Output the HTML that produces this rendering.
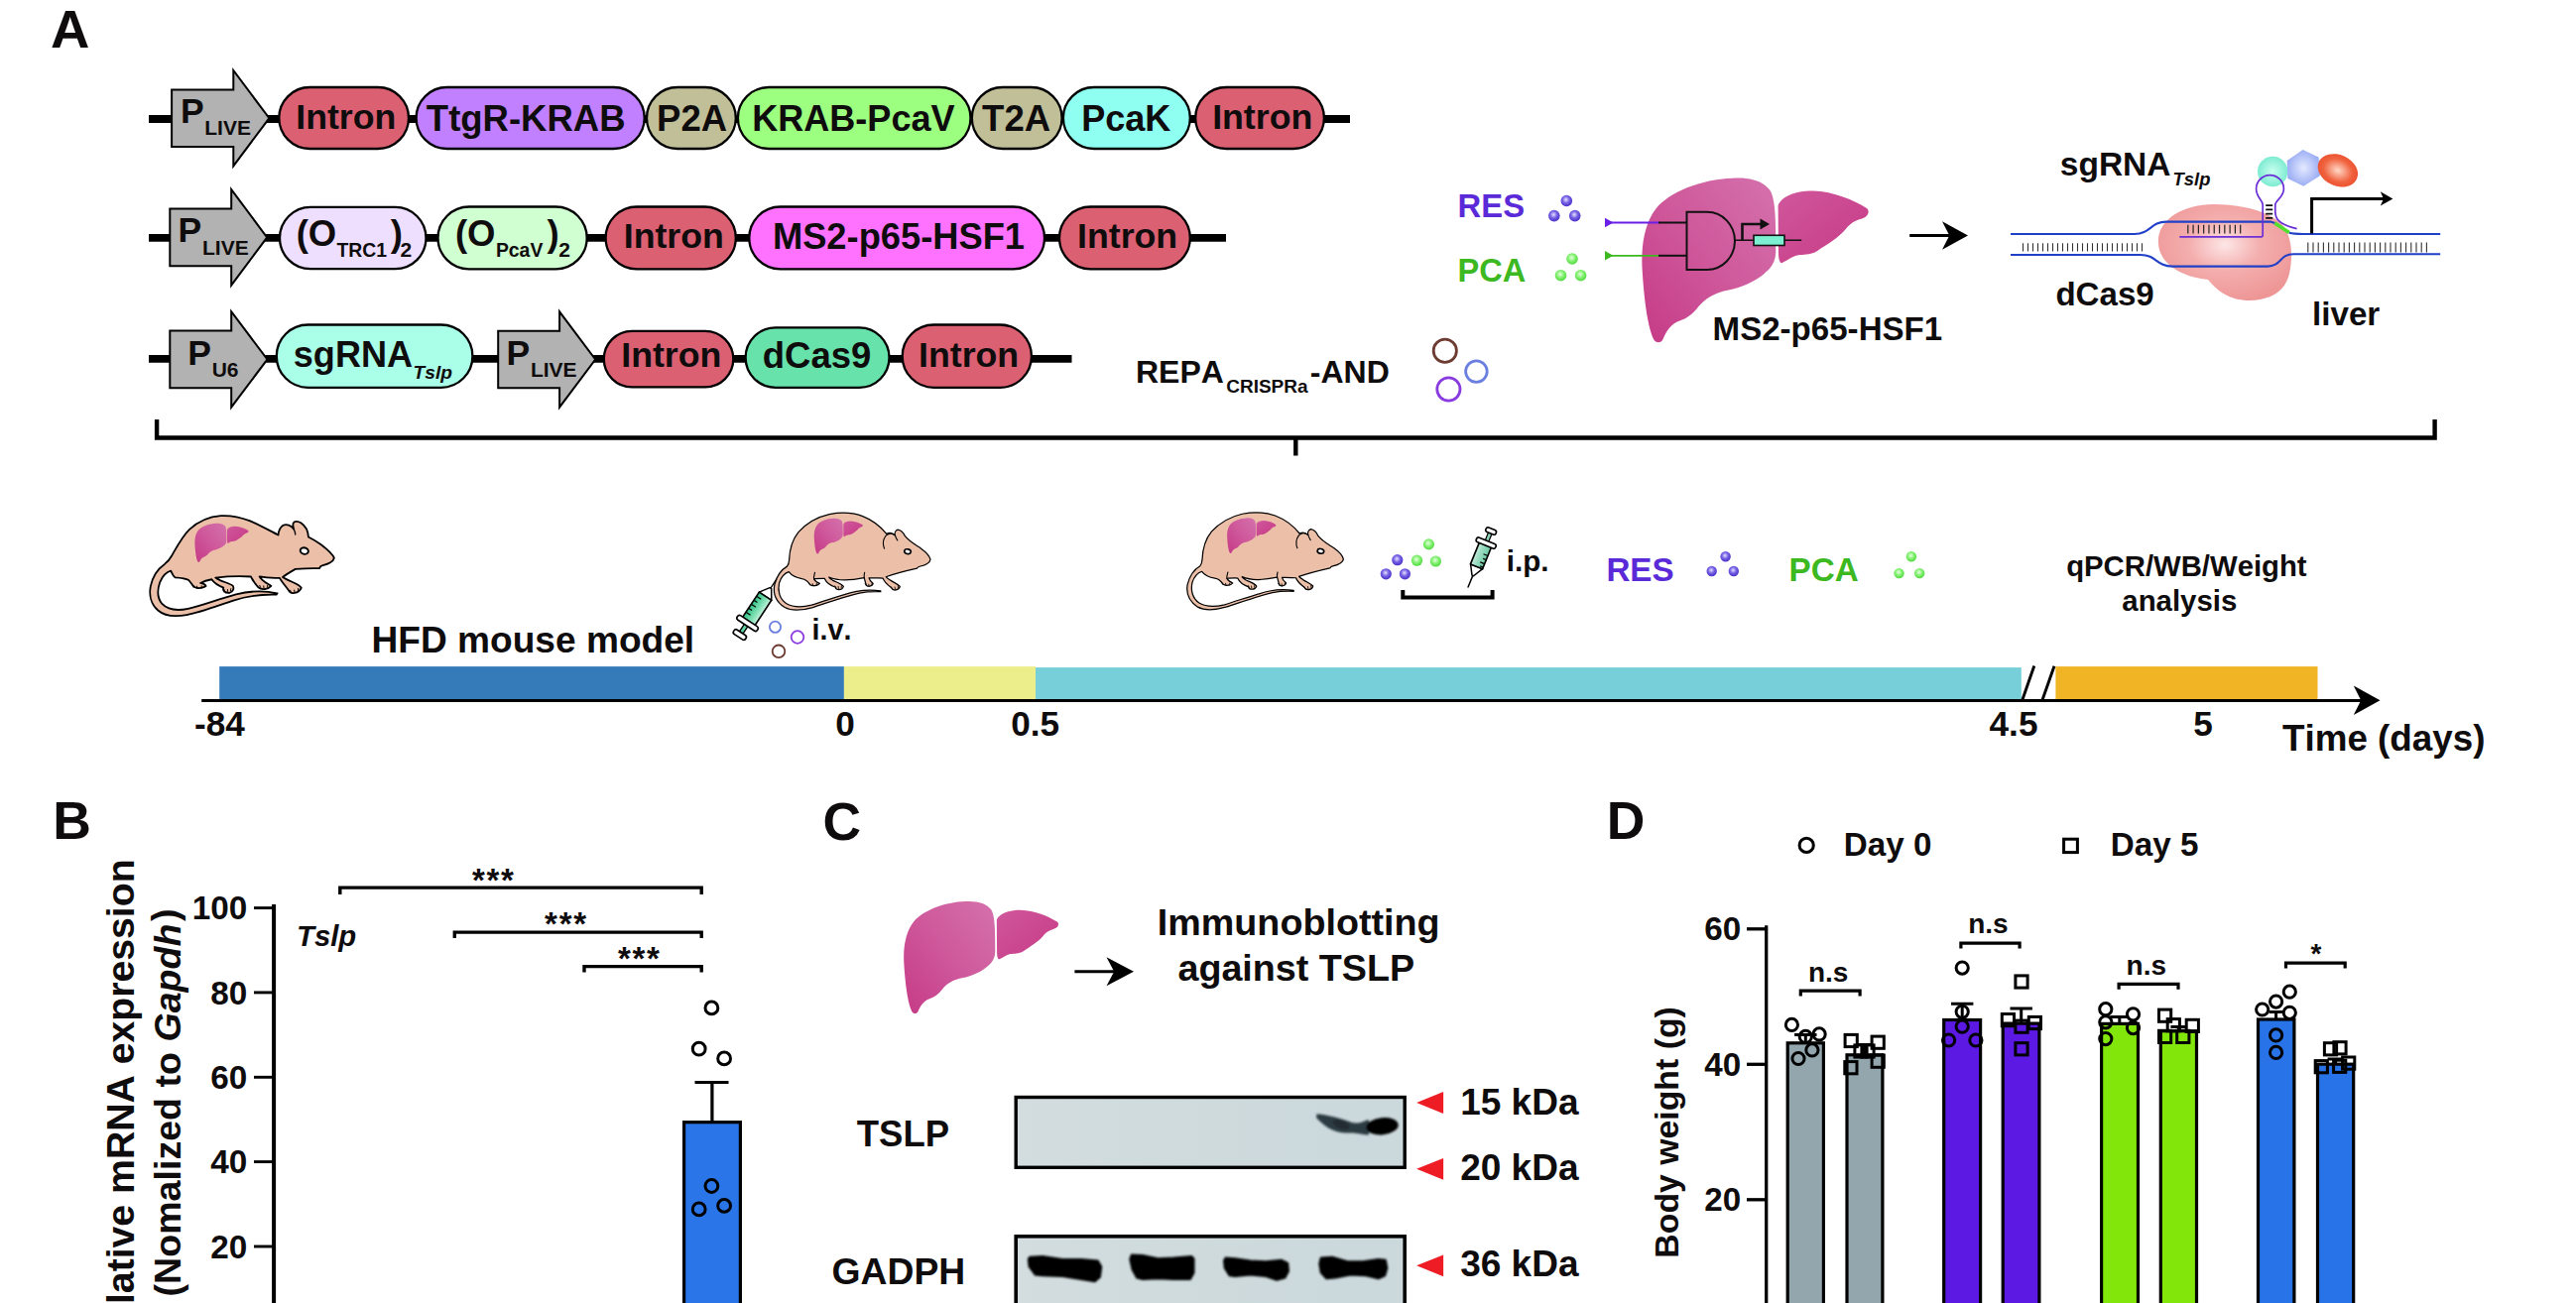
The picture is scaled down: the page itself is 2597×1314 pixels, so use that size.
<!DOCTYPE html>
<html lang="en"><head><meta charset="utf-8"><title>Figure</title>
<style>
html,body{margin:0;padding:0;background:#fff;width:2597px;height:1314px;overflow:hidden;}
svg{display:block;}
text{font-family:"Liberation Sans",sans-serif;font-weight:bold;font-kerning:none;}
</style></head><body>
<svg width="2597" height="1314" viewBox="0 0 2597 1314">
<defs>
<linearGradient id="lvA" x1="0.05" y1="1" x2="1" y2="0.1">
 <stop offset="0" stop-color="#c63c87"/><stop offset="0.55" stop-color="#cf5a9c"/><stop offset="1" stop-color="#d46fab"/>
</linearGradient>
<linearGradient id="lvB" x1="0" y1="0" x2="1" y2="1">
 <stop offset="0" stop-color="#d0579c"/><stop offset="1" stop-color="#c63a84"/>
</linearGradient>
<radialGradient id="dotP" cx="0.45" cy="0.4" r="0.6">
 <stop offset="0" stop-color="#e6e1ff"/><stop offset="0.5" stop-color="#7562e4"/><stop offset="1" stop-color="#4a2fc8"/>
</radialGradient>
<radialGradient id="dotG" cx="0.45" cy="0.4" r="0.6">
 <stop offset="0" stop-color="#e6ffe0"/><stop offset="0.5" stop-color="#86f274"/><stop offset="1" stop-color="#4fd83e"/>
</radialGradient>
<radialGradient id="cas" cx="0.5" cy="0.42" r="0.6">
 <stop offset="0" stop-color="#fde6e6"/><stop offset="0.45" stop-color="#f4aeae"/><stop offset="1" stop-color="#ee9696"/>
</radialGradient>
<radialGradient id="gTeal" cx="0.5" cy="0.5" r="0.6">
 <stop offset="0" stop-color="#c9fff0"/><stop offset="1" stop-color="#6fe8cc"/>
</radialGradient>
<radialGradient id="gHex" cx="0.5" cy="0.5" r="0.6">
 <stop offset="0" stop-color="#e4eaff"/><stop offset="1" stop-color="#8ea2f2"/>
</radialGradient>
<radialGradient id="gRed" cx="0.5" cy="0.5" r="0.6">
 <stop offset="0" stop-color="#ffd9c8"/><stop offset="0.6" stop-color="#f0623e"/><stop offset="1" stop-color="#ea4a2a"/>
</radialGradient>
<linearGradient id="syr" x1="0" y1="0" x2="0" y2="1">
 <stop offset="0" stop-color="#2fc184"/><stop offset="0.6" stop-color="#7fe0b4"/><stop offset="1" stop-color="#c8f4de"/>
</linearGradient>
<linearGradient id="syr2" x1="0" y1="0" x2="0" y2="1">
 <stop offset="0" stop-color="#6cc9a2"/><stop offset="0.6" stop-color="#9adcc0"/><stop offset="1" stop-color="#c4eada"/>
</linearGradient>
<filter id="blur2" x="-20%" y="-40%" width="140%" height="180%"><feGaussianBlur stdDeviation="1.1"/></filter>
<filter id="blur3" x="-20%" y="-40%" width="140%" height="180%"><feGaussianBlur stdDeviation="2.6"/></filter>
<linearGradient id="blotBg" x1="0" y1="0" x2="1" y2="0">
 <stop offset="0" stop-color="#d3dddf"/><stop offset="0.5" stop-color="#cedadc"/><stop offset="1" stop-color="#cbd8dc"/>
</linearGradient>
<g id="liver">
<path d="M400,125 C450,121 492,133 512,160 C526,182 529,232 529,300 L529,332 C531,362 521,386 500,402 C470,430 422,449 390,455 C350,462 320,480 300,505 C285,525 265,540 245,546 C220,555 206,576 196,600 C190,613 175,613 168,600 C150,560 140,480 135,400 C130,330 140,260 175,215 C215,165 310,128 400,125 Z" fill="url(#lvA)"/>
<path d="M536,205 C546,178 590,161 640,162 C700,164 760,189 799,214 C808,224 801,240 781,245 C761,250 746,262 736,275 C716,300 681,320 651,340 C631,352 611,350 596,352 C576,355 561,370 547,375 C540,376 537,361 537,340 Z" fill="url(#lvB)"/>
</g>
<g id="mLean" stroke-linejoin="round" stroke-linecap="round">
<path d="M1498,455 C1485,420 1440,385 1400,355 C1370,333 1340,315 1310,300 C1308,265 1290,220 1255,197 C1235,184 1208,182 1200,198 C1195,212 1198,228 1204,244 C1185,216 1150,202 1125,216 C1102,232 1092,258 1090,286 C1030,255 950,210 880,182 C810,155 740,142 670,146 C585,152 505,188 442,245 C392,292 352,368 312,438 C298,464 282,482 262,497 C212,532 172,592 158,660 C146,722 160,792 212,836 C262,880 342,884 422,869 C522,851 642,804 762,764 C862,732 962,719 1076,722 L1083,712 C982,690 882,694 782,719 C662,751 542,799 432,824 C352,841 282,831 242,789 C207,749 206,689 226,630 C246,585 276,556 306,548 C316,566 320,586 336,596 C372,598 412,601 436,616 C456,636 462,656 482,668 C506,680 546,672 562,659 C556,646 540,640 522,637 C548,622 578,614 604,610 C620,634 652,656 690,670 C682,692 700,712 734,708 C760,702 770,676 758,656 C736,640 700,632 664,616 C654,610 640,604 632,598 C700,590 800,585 890,590 C904,618 922,646 944,668 C968,690 1016,684 1038,658 C1016,644 992,632 972,612 C962,602 956,596 953,590 C1000,600 1050,602 1100,600 C1114,628 1142,656 1164,688 C1178,724 1240,714 1258,672 C1246,652 1216,640 1190,628 C1162,616 1140,606 1122,594 C1140,580 1180,555 1215,535 C1280,530 1340,528 1390,530 C1394,520 1400,512 1410,510 C1450,500 1490,485 1498,455 Z" fill="#ebbfa8" stroke="#000" stroke-width="13"/>
<path d="M1204,244 C1212,262 1216,272 1214,282" fill="none" stroke="#000" stroke-width="10"/>
<ellipse cx="1280" cy="402" rx="30" ry="23" transform="rotate(15 1280 402)" fill="#fff" stroke="#000" stroke-width="14"/>
<path d="M470,668 l-6,-14 M500,676 l-4,-16 M530,674 l0,-16 M700,698 l-6,-16 M722,700 l-2,-16 M742,692 l2,-14 M960,668 l-6,-14 M985,674 l-2,-16 M1010,668 l2,-14 M1185,706 l-8,-16 M1210,706 l-4,-18 M1235,692 l0,-16" fill="none" stroke="#000" stroke-width="7"/>
</g>
<g id="mFat" stroke-linejoin="round" stroke-linecap="round">
<path d="M1578,465 C1572,435 1545,410 1510,385 C1470,358 1425,335 1392,293 C1380,268 1362,250 1340,247 C1322,252 1316,272 1320,288 C1300,270 1275,268 1258,278 C1215,225 1150,175 1080,148 C1010,122 920,120 840,135 C750,155 670,205 615,265 C570,320 550,400 547,470 C546,490 540,505 532,515 C490,540 455,590 440,650 C428,715 455,775 515,815 C565,842 650,835 720,815 C820,783 940,738 1060,710 C1110,700 1160,698 1215,700 L1215,694 C1150,684 1090,688 1040,698 C930,722 820,765 710,798 C640,815 570,812 525,785 C475,750 462,690 475,635 C488,595 515,565 545,555 C560,575 600,598 640,605 C665,608 685,625 698,648 C720,664 760,655 770,640 C752,632 735,622 728,606 C760,604 785,602 806,604 C818,632 850,655 886,668 C884,690 934,694 944,662 C930,642 890,630 864,616 C852,608 842,600 838,594 C900,622 1000,618 1095,598 C1100,620 1105,640 1112,655 C1130,668 1158,655 1160,640 C1148,630 1135,620 1130,600 C1170,598 1205,602 1232,602 C1240,630 1268,652 1294,672 C1304,698 1350,690 1356,662 C1340,644 1308,632 1282,614 C1268,606 1258,598 1254,592 C1310,572 1400,548 1480,530 C1486,522 1492,518 1500,516 C1545,505 1575,490 1578,465 Z" fill="#ebbfa8" stroke="#000" stroke-width="9"/>
<path d="M1320,288 C1300,270 1268,272 1250,295 C1232,322 1230,355 1242,385" fill="none" stroke="#000" stroke-width="8"/>
<path d="M1320,288 C1326,305 1332,316 1338,326" fill="none" stroke="#000" stroke-width="8"/>
<path d="M735,560 C730,580 725,595 728,606 M1098,560 C1094,575 1093,588 1095,598" fill="none" stroke="#000" stroke-width="8"/>
<ellipse cx="1412" cy="407" rx="24" ry="17" transform="rotate(12 1412 407)" fill="#fff" stroke="#000" stroke-width="12"/>
<path d="M700,650 l-8,-14 M722,658 l-4,-16 M748,656 l0,-16 M890,672 l-8,-14 M908,678 l-2,-16 M928,670 l2,-14 M1110,656 l-8,-14 M1130,662 l-2,-16 M1150,654 l2,-14 M1300,680 l-10,-16 M1322,684 l-4,-18 M1342,672 l0,-16" fill="none" stroke="#000" stroke-width="6"/>
</g>
<g id="syringe" stroke-linejoin="round">
<line x1="420" y1="0" x2="498" y2="0" stroke="#000" stroke-width="9" stroke-linecap="round"/>
<path d="M350,-54 L420,-7 L420,7 L350,54 Z" fill="#fff" stroke="#000" stroke-width="11"/>
<rect x="30" y="-15" width="70" height="30" fill="#5fd3a2" stroke="#000" stroke-width="10"/>
<rect x="130" y="-54" width="220" height="108" fill="url(#syr)" stroke="#000" stroke-width="12"/>
<path d="M175,-54V-14M210,-54V-24M245,-54V-14M280,-54V-24M315,-54V-14" stroke="#000" stroke-width="9" fill="none"/>
<rect x="95" y="-88" width="38" height="176" rx="17" fill="#fff" stroke="#000" stroke-width="12"/>
<rect x="-6" y="-52" width="38" height="104" rx="17" fill="#fff" stroke="#000" stroke-width="12"/>
</g><g id="syringe2" stroke-linejoin="round">
<line x1="395" y1="0" x2="498" y2="0" stroke="#000" stroke-width="12" stroke-linecap="round"/>
<path d="M318,-52 L398,-7 L398,7 L318,52 Z" fill="#fff" stroke="#000" stroke-width="12"/>
<rect x="28" y="-15" width="72" height="30" fill="#8fd6b8" stroke="#000" stroke-width="10"/>
<rect x="130" y="-52" width="190" height="104" fill="url(#syr2)" stroke="#000" stroke-width="13"/>
<path d="M205,-52V-14M240,-52V-24M275,-52V-14M305,-52V-24" stroke="#000" stroke-width="10" fill="none"/>
<rect x="95" y="-84" width="40" height="168" rx="18" fill="#fff" stroke="#000" stroke-width="13"/>
<rect x="-8" y="-44" width="38" height="88" rx="17" fill="#fff" stroke="#000" stroke-width="13"/>
</g>
</defs>
<rect width="2597" height="1314" fill="#ffffff"/>

<text x="51.0" y="47.7" font-size="54.5" text-anchor="start" fill="#0f0c0d">A</text>
<text x="53.3" y="846.2" font-size="53.5" text-anchor="start" fill="#0f0c0d">B</text>
<text x="829.5" y="846.8" font-size="53.5" text-anchor="start" fill="#0f0c0d">C</text>
<text x="1619.8" y="846.4" font-size="53.5" text-anchor="start" fill="#0f0c0d">D</text>
<line x1="150" y1="120.0" x2="1361" y2="120.0" stroke="#000" stroke-width="7.8"/>
<polygon points="173.1,90.4 235.3,90.4 235.3,71.0 271.4,119.2 235.3,167.4 235.3,148.0 173.1,148.0" fill="#b2b2b2" stroke="#000" stroke-width="2.0" stroke-linejoin="miter"/>
<text x="181.9" y="123.5" font-size="35.5" text-anchor="start" fill="#0f0c0d">P</text>
<text x="206.3" y="136.4" font-size="21" text-anchor="start" fill="#0f0c0d">LIVE</text>
<rect x="281.3" y="88.0" width="130.7" height="62.0" rx="31.0" fill="#db6071" stroke="#000" stroke-width="2.3"/>
<text x="348.8" y="129.6" font-size="35.7" text-anchor="middle" fill="#0f0c0d">Intron</text>
<rect x="419.6" y="88.0" width="230.1" height="62.0" rx="31.0" fill="#c080ff" stroke="#000" stroke-width="2.3"/>
<text x="530.2" y="132.0" font-size="36.5" text-anchor="middle" fill="#0f0c0d">TtgR-KRAB</text>
<rect x="652.0" y="88.0" width="89.8" height="62.0" rx="31.0" fill="#c1bf98" stroke="#000" stroke-width="2.3"/>
<text x="697.6" y="132.0" font-size="36.5" text-anchor="middle" fill="#0f0c0d">P2A</text>
<rect x="743.9" y="88.0" width="234.6" height="62.0" rx="31.0" fill="#9dff80" stroke="#000" stroke-width="2.3"/>
<text x="860.4" y="132.0" font-size="36.1" text-anchor="middle" fill="#0f0c0d">KRAB-PcaV</text>
<rect x="979.8" y="88.0" width="90.8" height="62.0" rx="31.0" fill="#c1bf98" stroke="#000" stroke-width="2.3"/>
<text x="1024.6" y="132.0" font-size="36.5" text-anchor="middle" fill="#0f0c0d">T2A</text>
<rect x="1071.9" y="88.0" width="127.9" height="62.0" rx="31.0" fill="#8ffff2" stroke="#000" stroke-width="2.3"/>
<text x="1135.3" y="132.0" font-size="36.1" text-anchor="middle" fill="#0f0c0d">PcaK</text>
<rect x="1205.2" y="88.0" width="129.7" height="62.0" rx="31.0" fill="#db6071" stroke="#000" stroke-width="2.3"/>
<text x="1272.7" y="129.6" font-size="35.7" text-anchor="middle" fill="#0f0c0d">Intron</text>
<line x1="150" y1="239.8" x2="1236" y2="239.8" stroke="#000" stroke-width="7.8"/>
<polygon points="171.3,210.5 233.2,210.5 233.2,191.1 269.2,239.4 233.2,287.7 233.2,268.3 171.3,268.3" fill="#b2b2b2" stroke="#000" stroke-width="2.0" stroke-linejoin="miter"/>
<text x="179.4" y="244.0" font-size="35.5" text-anchor="start" fill="#0f0c0d">P</text>
<text x="204.0" y="256.6" font-size="21" text-anchor="start" fill="#0f0c0d">LIVE</text>
<rect x="282.0" y="208.9" width="147.5" height="62.3" rx="31.1" fill="#efdfff" stroke="#000" stroke-width="2.3"/>
<text x="298.7" y="248.0" font-size="36.5" text-anchor="start" fill="#0f0c0d">(O</text>
<text x="339.5" y="258.7" font-size="19.4" text-anchor="start" fill="#0f0c0d">TRC1</text>
<text x="393.8" y="248.0" font-size="36.5" text-anchor="start" fill="#0f0c0d">)</text>
<text x="403.6" y="258.7" font-size="21" text-anchor="start" fill="#0f0c0d">2</text>
<rect x="441.5" y="208.5" width="150.2" height="62.8" rx="31.4" fill="#d0ffd2" stroke="#000" stroke-width="2.3"/>
<text x="458.9" y="248.0" font-size="36.5" text-anchor="start" fill="#0f0c0d">(O</text>
<text x="499.9" y="258.7" font-size="19.4" text-anchor="start" fill="#0f0c0d">PcaV</text>
<text x="551.5" y="248.0" font-size="36.5" text-anchor="start" fill="#0f0c0d">)</text>
<text x="563.3" y="258.7" font-size="21" text-anchor="start" fill="#0f0c0d">2</text>
<rect x="610.6" y="208.5" width="131.2" height="62.8" rx="31.4" fill="#db6071" stroke="#000" stroke-width="2.3"/>
<text x="679.3" y="249.6" font-size="35.7" text-anchor="middle" fill="#0f0c0d">Intron</text>
<rect x="755.3" y="208.5" width="297.7" height="62.8" rx="31.4" fill="#ff72ff" stroke="#000" stroke-width="2.3"/>
<text x="906.0" y="251.0" font-size="36.3" text-anchor="middle" fill="#0f0c0d">MS2-p65-HSF1</text>
<rect x="1068.0" y="208.5" width="131.8" height="62.8" rx="31.4" fill="#db6071" stroke="#000" stroke-width="2.3"/>
<text x="1136.6" y="249.6" font-size="35.7" text-anchor="middle" fill="#0f0c0d">Intron</text>
<line x1="150" y1="361.8" x2="1080.5" y2="361.8" stroke="#000" stroke-width="7.8"/>
<polygon points="171.3,333.6 233.2,333.6 233.2,314.2 269.5,362.4 233.2,410.7 233.2,391.2 171.3,391.2" fill="#b2b2b2" stroke="#000" stroke-width="2.0" stroke-linejoin="miter"/>
<text x="189.3" y="367.7" font-size="35.5" text-anchor="start" fill="#0f0c0d">P</text>
<text x="213.7" y="379.7" font-size="21" text-anchor="start" fill="#0f0c0d">U6</text>
<rect x="278.8" y="327.5" width="197.6" height="63.3" rx="31.7" fill="#aaffe9" stroke="#000" stroke-width="2.3"/>
<text x="295.8" y="369.6" font-size="36.1" text-anchor="start" fill="#0f0c0d">sgRNA</text>
<text x="416.6" y="382.2" font-size="19.2" text-anchor="start" fill="#0f0c0d" font-style="italic">Tslp</text>
<polygon points="502.2,333.7 564.1,333.7 564.1,314.3 600.2,362.5 564.1,410.7 564.1,391.3 502.2,391.3" fill="#b2b2b2" stroke="#000" stroke-width="2.0" stroke-linejoin="miter"/>
<text x="510.5" y="367.7" font-size="35.5" text-anchor="start" fill="#0f0c0d">P</text>
<text x="534.9" y="379.7" font-size="21" text-anchor="start" fill="#0f0c0d">LIVE</text>
<rect x="608.8" y="333.8" width="130.5" height="56.6" rx="28.3" fill="#db6071" stroke="#000" stroke-width="2.3"/>
<text x="676.8" y="369.6" font-size="35.7" text-anchor="middle" fill="#0f0c0d">Intron</text>
<rect x="751.6" y="330.4" width="144.9" height="60.4" rx="30.2" fill="#66e2aa" stroke="#000" stroke-width="2.3"/>
<text x="823.6" y="370.8" font-size="36.5" text-anchor="middle" fill="#0f0c0d">dCas9</text>
<rect x="909.7" y="327.5" width="130.2" height="63.3" rx="31.7" fill="#db6071" stroke="#000" stroke-width="2.3"/>
<text x="976.6" y="369.6" font-size="35.7" text-anchor="middle" fill="#0f0c0d">Intron</text>
<text x="1145.0" y="385.8" font-size="32" text-anchor="start" fill="#0f0c0d">REPA</text>
<text x="1236.2" y="396.4" font-size="19" text-anchor="start" fill="#0f0c0d">CRISPRa</text>
<text x="1320.8" y="385.8" font-size="32" text-anchor="start" fill="#0f0c0d">-AND</text>
<circle cx="1456.8" cy="353.8" r="11.6" fill="none" stroke="#6d3b32" stroke-width="2.8"/>
<circle cx="1488.4" cy="374.6" r="10.8" fill="none" stroke="#6b7fe0" stroke-width="2.8"/>
<circle cx="1460.4" cy="392.5" r="11.6" fill="none" stroke="#8a3be0" stroke-width="2.8"/>
<path d="M158.1,423.1 V441.5 H2454.6 V423.1 M1306.3,441.5 V459.6" fill="none" stroke="#000" stroke-width="4.4" stroke-linecap="butt" stroke-linejoin="miter"/>
<text x="1469.6" y="218.6" font-size="32.8" text-anchor="start" fill="#5b2ad8">RES</text>
<text x="1469.6" y="283.6" font-size="32.6" text-anchor="start" fill="#3cb821">PCA</text>
<circle cx="1579.3" cy="202.5" r="5.8" fill="url(#dotP)"/>
<circle cx="1566.8" cy="217.6" r="5.8" fill="url(#dotP)"/>
<circle cx="1587.7" cy="217.6" r="5.8" fill="url(#dotP)"/>
<circle cx="1585.0" cy="261.0" r="5.8" fill="url(#dotG)"/>
<circle cx="1573.5" cy="277.7" r="5.8" fill="url(#dotG)"/>
<circle cx="1593.6" cy="277.7" r="5.8" fill="url(#dotG)"/>
<use href="#liver" transform="translate(1609.70,137.20) scale(0.34120)"/>
<polygon points="1618,219.8 1618,229.2 1626.5,224.5" fill="#6a1fe8"/>
<line x1="1624" y1="224.5" x2="1673" y2="224.5" stroke="#6a1fe8" stroke-width="1.8"/>
<line x1="1672" y1="224.5" x2="1701" y2="224.5" stroke="#111" stroke-width="2"/>
<polygon points="1618,253.1 1618,262.5 1626.5,257.8" fill="#3cb821"/>
<line x1="1624" y1="257.8" x2="1673" y2="257.8" stroke="#3cb821" stroke-width="1.8"/>
<line x1="1672" y1="257.8" x2="1701" y2="257.8" stroke="#111" stroke-width="2"/>
<path d="M1700.5,213.8 H1721 A28,29.1 0 0 1 1721,272 H1700.5 Z" fill="none" stroke="#111" stroke-width="2"/>
<line x1="1748.7" y1="242.3" x2="1816.2" y2="242.3" stroke="#111" stroke-width="1.6"/>
<path d="M1756.5,242.3 V226 H1776.4" fill="none" stroke="#111" stroke-width="2.6"/>
<polygon points="1774.5,220.6 1784,226 1774.5,231.4" fill="#111"/>
<rect x="1768" y="237.3" width="31" height="10.2" fill="#7df0d2" stroke="#111" stroke-width="1.6"/>
<text x="1726.6" y="343.4" font-size="33.1" text-anchor="start" fill="#0f0c0d">MS2-p65-HSF1</text>
<line x1="1925.2" y1="237.5" x2="1968.4" y2="237.5" stroke="#000" stroke-width="3"/>
<polygon points="1984.0,237.5 1958.0,223.3 1965.3,237.5 1958.0,251.7" fill="#000"/>
<text x="2076.8" y="176.6" font-size="33.5" text-anchor="start" fill="#0f0c0d">sgRNA</text>
<text x="2190.6" y="187.0" font-size="18.4" text-anchor="start" fill="#0f0c0d" font-style="italic">Tslp</text>
<text x="2072.4" y="308.2" font-size="33.1" text-anchor="start" fill="#0f0c0d">dCas9</text>
<text x="2331.0" y="328.0" font-size="33.2" text-anchor="start" fill="#0f0c0d">liver</text>
<path d="M2176,246 C2174,222 2200,206 2232,206 C2262,206 2290,214 2302,228 C2312,242 2311,262 2308,276 C2304,294 2288,303 2268,303 C2248,303 2236,294 2226,282 C2206,280 2178,270 2176,246 Z" fill="url(#cas)"/>
<circle cx="2291.2" cy="173" r="15.2" fill="url(#gTeal)"/>
<polygon points="2321.6,151.0 2337.5,158.6 2338.9,177.3 2322.3,187.7 2306.4,180.1 2305.7,162.1" fill="url(#gHex)"/>
<ellipse cx="2356.9" cy="171.8" rx="21" ry="15.6" transform="rotate(24 2356.9 171.8)" fill="url(#gRed)"/>
<path d="M2027,236 H2152 C2168,236 2168,223.6 2184,223.6 H2289 L2293.5,225" fill="none" stroke="#2140c8" stroke-width="2.1"/>
<path d="M2307.8,234.8 C2312,236 2316,236 2322,236 H2460.2" fill="none" stroke="#2140c8" stroke-width="2.1"/>
<line x1="2293.3" y1="225" x2="2307.8" y2="234.6" stroke="#4fe02c" stroke-width="3.6"/>
<path d="M2027,257 H2158 C2174,257 2174,268.6 2190,268.6 H2286 C2300,268.6 2298,256.2 2312,256.2 H2460.2" fill="none" stroke="#2140c8" stroke-width="2.1"/>
<path d="M2039.50,245.3V253.6M2044.50,245.3V253.6M2049.50,245.3V253.6M2054.50,245.3V253.6M2059.50,245.3V253.6M2064.50,245.3V253.6M2069.50,245.3V253.6M2074.50,245.3V253.6M2079.50,245.3V253.6M2084.50,245.3V253.6M2089.50,245.3V253.6M2094.50,245.3V253.6M2099.50,245.3V253.6M2104.50,245.3V253.6M2109.50,245.3V253.6M2114.50,245.3V253.6M2119.50,245.3V253.6M2124.50,245.3V253.6M2129.50,245.3V253.6M2134.50,245.3V253.6M2139.50,245.3V253.6M2144.50,245.3V253.6M2149.50,245.3V253.6M2154.50,245.3V253.6M2159.50,245.3V253.6" stroke="#333" stroke-width="1.1" fill="none"/>
<path d="M2326.80,244.4V254.4M2332.00,244.4V254.4M2337.20,244.4V254.4M2342.40,244.4V254.4M2347.60,244.4V254.4M2352.80,244.4V254.4M2358.00,244.4V254.4M2363.20,244.4V254.4M2368.40,244.4V254.4M2373.60,244.4V254.4M2378.80,244.4V254.4M2384.00,244.4V254.4M2389.20,244.4V254.4M2394.40,244.4V254.4M2399.60,244.4V254.4M2404.80,244.4V254.4M2410.00,244.4V254.4M2415.20,244.4V254.4M2420.40,244.4V254.4M2425.60,244.4V254.4M2430.80,244.4V254.4M2436.00,244.4V254.4M2441.20,244.4V254.4M2446.40,244.4V254.4" stroke="#333" stroke-width="1.1" fill="none"/>
<path d="M2205.80,226.8V235.6M2211.09,226.8V235.6M2216.38,226.8V235.6M2221.67,226.8V235.6M2226.96,226.8V235.6M2232.25,226.8V235.6M2237.54,226.8V235.6M2242.83,226.8V235.6M2248.12,226.8V235.6M2253.41,226.8V235.6M2258.70,226.8V235.6" stroke="#222" stroke-width="1.2" fill="none"/>
<path d="M2197.3,238.8 H2279.6 Q2281.2,238.8 2281.2,237 V206.5 C2281.2,202 2274.6,199 2274.6,190.5 A13.9,13.9 0 1 1 2302.4,190.5 C2302.4,199 2293.8,202 2293.8,206.5 V214 C2293.8,224 2304,228 2315.6,230.6" fill="none" stroke="#6a2fd6" stroke-width="1.7"/>
<path d="M2284.2,207.2H2291.2M2284.2,211.4H2291.2M2284.2,215.7H2291.2M2284.2,219.9H2291.2" stroke="#111" stroke-width="1.7" fill="none"/>
<path d="M2330.6,235.4 V200.4 H2404" fill="none" stroke="#000" stroke-width="3"/>
<polygon points="2412.4,200.4 2399.8,193.2 2403,200.4 2399.8,207.6" fill="#000"/>
<use href="#mLean" transform="translate(130,500) scale(0.13812)"/>
<use href="#liver" transform="translate(185.60,517.60) scale(0.08090)"/>
<use href="#mFat" transform="translate(720,500) scale(0.13812)"/>
<use href="#liver" transform="translate(810.88,513.61) scale(0.07350)"/>
<use href="#mFat" transform="translate(1136.4,499.6) scale(0.13812)"/>
<use href="#liver" transform="translate(1227.28,513.21) scale(0.07350)"/>
<use href="#syringe" transform="translate(744.86,641.57) rotate(-56.5) scale(0.13812)"/>
<use href="#syringe2" transform="translate(1503.66,534.24) rotate(112.2) scale(0.12541)"/>
<circle cx="781.5" cy="632.3" r="5.6" fill="none" stroke="#6b7fe0" stroke-width="1.8"/>
<circle cx="804.0" cy="642.5" r="6.3" fill="none" stroke="#8a3be0" stroke-width="1.8"/>
<circle cx="785.0" cy="656.8" r="6.3" fill="none" stroke="#6d3b32" stroke-width="1.8"/>
<text x="818.6" y="645.0" font-size="28.6" text-anchor="start" fill="#0f0c0d">i.v.</text>
<text x="1518.8" y="575.8" font-size="29.6" text-anchor="start" fill="#0f0c0d">i.p.</text>
<circle cx="1408.8" cy="564.7" r="5.6" fill="url(#dotP)"/>
<circle cx="1397.3" cy="578.8" r="5.6" fill="url(#dotP)"/>
<circle cx="1416.4" cy="578.8" r="5.6" fill="url(#dotP)"/>
<circle cx="1440.4" cy="548.9" r="5.6" fill="url(#dotG)"/>
<circle cx="1428.5" cy="565.2" r="5.6" fill="url(#dotG)"/>
<circle cx="1447.4" cy="566.0" r="5.6" fill="url(#dotG)"/>
<path d="M1414.3,594.9 V602.4 H1504.6 V594.9" fill="none" stroke="#000" stroke-width="4"/>
<text x="1619.4" y="585.5" font-size="33.2" text-anchor="start" fill="#5b2ad8">RES</text>
<text x="1803.6" y="585.5" font-size="33.2" text-anchor="start" fill="#3cb821">PCA</text>
<circle cx="1739.6" cy="561.3" r="5.2" fill="url(#dotP)"/>
<circle cx="1725.7" cy="576.0" r="5.2" fill="url(#dotP)"/>
<circle cx="1747.8" cy="576.0" r="5.2" fill="url(#dotP)"/>
<circle cx="1926.9" cy="561.3" r="5.2" fill="url(#dotG)"/>
<circle cx="1914.5" cy="578.1" r="5.2" fill="url(#dotG)"/>
<circle cx="1935.2" cy="578.1" r="5.2" fill="url(#dotG)"/>
<text x="2204.4" y="581.4" font-size="29.3" text-anchor="middle" fill="#0f0c0d">qPCR/WB/Weight</text>
<text x="2197.3" y="615.9" font-size="29.4" text-anchor="middle" fill="#0f0c0d">analysis</text>
<text x="374.6" y="658.4" font-size="37.1" text-anchor="start" fill="#0f0c0d">HFD mouse model</text>
<rect x="221.2" y="672.1" width="629.7" height="33.1" fill="#367bb9"/>
<rect x="850.9" y="672.1" width="193.1" height="33.1" fill="#ecee8b"/>
<rect x="1044" y="673.1" width="993.8" height="32.1" fill="#77cfda"/>
<rect x="2072.4" y="672.1" width="264.1" height="33.1" fill="#f1b424"/>
<line x1="203.2" y1="706.5" x2="2384" y2="706.5" stroke="#000" stroke-width="2.9"/>
<polygon points="2399.5,706.3 2372.8,691.6 2380.2,706.3 2372.8,721" fill="#000"/>
<path d="M2038.6,706.5 L2050.8,671.6 M2058.8,706.5 L2071.0,671.8" stroke="#000" stroke-width="2.9" fill="none"/>
<text x="196.0" y="742.2" font-size="35.2" text-anchor="start" fill="#0f0c0d">-84</text>
<text x="852.0" y="742.2" font-size="35.2" text-anchor="middle" fill="#0f0c0d">0</text>
<text x="1043.7" y="742.2" font-size="35.2" text-anchor="middle" fill="#0f0c0d">0.5</text>
<text x="2030.0" y="742.2" font-size="35.2" text-anchor="middle" fill="#0f0c0d">4.5</text>
<text x="2221.0" y="742.2" font-size="35.2" text-anchor="middle" fill="#0f0c0d">5</text>
<text x="2301.0" y="756.5" font-size="36.8" text-anchor="start" fill="#0f0c0d">Time (days)</text>
<line x1="276.1" y1="912.0" x2="276.1" y2="1319" stroke="#000" stroke-width="4.0"/>
<line x1="256.0" y1="915.6" x2="276.1" y2="915.6" stroke="#000" stroke-width="2.9"/>
<text x="249.4" y="927.4" font-size="33.3" text-anchor="end" fill="#0f0c0d">100</text>
<line x1="256.0" y1="1000.9" x2="276.1" y2="1000.9" stroke="#000" stroke-width="2.9"/>
<text x="249.4" y="1012.7" font-size="33.3" text-anchor="end" fill="#0f0c0d">80</text>
<line x1="256.0" y1="1086.3" x2="276.1" y2="1086.3" stroke="#000" stroke-width="2.9"/>
<text x="249.4" y="1098.1" font-size="33.3" text-anchor="end" fill="#0f0c0d">60</text>
<line x1="256.0" y1="1171.6" x2="276.1" y2="1171.6" stroke="#000" stroke-width="2.9"/>
<text x="249.4" y="1183.4" font-size="33.3" text-anchor="end" fill="#0f0c0d">40</text>
<line x1="256.0" y1="1257.0" x2="276.1" y2="1257.0" stroke="#000" stroke-width="2.9"/>
<text x="249.4" y="1268.8" font-size="33.3" text-anchor="end" fill="#0f0c0d">20</text>
<text transform="translate(135.3,866.4) rotate(-90)" font-size="39.2" text-anchor="end" fill="#0f0c0d">Relative mRNA expression</text>
<text transform="translate(182.2,931.6) rotate(-90)" font-size="37.6" text-anchor="end" fill="#0f0c0d">(Nomalized to <tspan font-style="italic">Gapdh</tspan></text>
<text transform="translate(178.6,916.5) rotate(-90)" font-size="37.6" text-anchor="end" fill="#0f0c0d">)</text>
<text x="299.0" y="953.9" font-size="29.3" text-anchor="start" fill="#0f0c0d" font-style="italic">Tslp</text>
<path d="M342.8,902.0 V895.1 H707.2 V902.0" fill="none" stroke="#000" stroke-width="3.4"/>
<path d="M458.3,946.0 V940.1 H707.2 V946.0" fill="none" stroke="#000" stroke-width="3.4"/>
<path d="M589.0,980.5 V974.6 H707.2 V980.5" fill="none" stroke="#000" stroke-width="3.4"/>
<text x="497.8" y="899.3" font-size="33" text-anchor="middle" fill="#0f0c0d" letter-spacing="1.75">***</text>
<text x="571.0" y="943.0" font-size="33" text-anchor="middle" fill="#0f0c0d" letter-spacing="1.75">***</text>
<text x="644.8" y="977.9" font-size="33" text-anchor="middle" fill="#0f0c0d" letter-spacing="1.75">***</text>
<rect x="689.6" y="1131.7" width="56.8" height="192.3" fill="#2a75e7" stroke="#000" stroke-width="3.2"/>
<path d="M717.9,1131 V1091.5 M700.5,1091.5 H734.5" fill="none" stroke="#000" stroke-width="3.2"/>
<circle cx="717.4" cy="1016.4" r="6.4" fill="none" stroke="#000" stroke-width="3"/>
<circle cx="704.7" cy="1057.7" r="6.4" fill="none" stroke="#000" stroke-width="3"/>
<circle cx="730.1" cy="1067.4" r="6.4" fill="none" stroke="#000" stroke-width="3"/>
<circle cx="717.4" cy="1196.0" r="6.4" fill="none" stroke="#000" stroke-width="3"/>
<circle cx="704.7" cy="1219.4" r="6.4" fill="none" stroke="#000" stroke-width="3"/>
<circle cx="730.1" cy="1215.9" r="6.4" fill="none" stroke="#000" stroke-width="3"/>
<use href="#liver" transform="translate(880.00,880.00) scale(0.23294)"/>
<line x1="1083.4" y1="979.7" x2="1126.5" y2="979.7" stroke="#000" stroke-width="3"/>
<polygon points="1143.0,979.7 1115.5,965.2 1123.2,979.7 1115.5,994.2" fill="#000"/>
<text x="1309.2" y="943.4" font-size="37.7" text-anchor="middle" fill="#0f0c0d">Immunoblotting</text>
<text x="1306.8" y="989.0" font-size="37.7" text-anchor="middle" fill="#0f0c0d">against TSLP</text>
<text x="863.8" y="1155.5" font-size="36.5" text-anchor="start" fill="#0f0c0d">TSLP</text>
<text x="838.6" y="1295.2" font-size="37.3" text-anchor="start" fill="#0f0c0d">GADPH</text>
<rect x="1024.2" y="1106.5" width="392.0" height="70.8" fill="url(#blotBg)" stroke="#000" stroke-width="3.4"/>
<rect x="1024.2" y="1246.8" width="392.0" height="77.2" fill="url(#blotBg)" stroke="#000" stroke-width="3.6"/>
<g filter="url(#blur2)"><path d="M1327.5,1123.2 C1336,1124 1344,1126 1351,1128 C1358,1130 1363,1132.6 1368,1132.6 C1372,1132.4 1376,1130.4 1380,1129 L1380,1144.6 C1374,1144.4 1369,1143 1364.5,1142.6 C1358,1142.6 1353,1142.6 1348,1141.2 C1343,1139.6 1340,1138 1337,1136 C1333,1133 1329.5,1130 1327,1127 Z" fill="#25333a" opacity="0.95"/><ellipse cx="1352" cy="1134" rx="9" ry="4" transform="rotate(22 1352 1134)" fill="#1e2a30" opacity="0.8"/><ellipse cx="1393.6" cy="1135.7" rx="16.2" ry="8.6" transform="rotate(-6 1393.6 1135.7)" fill="#030405"/></g>
<g filter="url(#blur2)" fill="#060606" stroke="#060606" stroke-width="1.6" stroke-linejoin="round">
<polygon points="1037.9,1267.6 1051.1,1266.7 1071.2,1269.8 1089.9,1269.8 1107.0,1271.4 1110.5,1277.3 1109.1,1287.8 1103.9,1292.5 1089.9,1290.3 1071.2,1287.2 1051.1,1286.4 1043.6,1285.7 1037.4,1277.3 1036.6,1269.8"/>
<polygon points="1140.7,1265.2 1152.0,1265.9 1167.5,1269.0 1183.0,1268.3 1201.4,1266.7 1203.7,1269.2 1203.7,1283.5 1200.1,1290.2 1183.0,1290.3 1167.5,1289.5 1152.0,1290.3 1146.1,1288.8 1141.4,1280.4 1139.1,1269.8"/>
<polygon points="1235.4,1268.3 1245.2,1269.0 1260.7,1271.4 1276.2,1272.1 1291.7,1270.6 1298.4,1273.7 1299.2,1281.9 1295.5,1288.8 1287.1,1290.9 1276.2,1287.2 1260.7,1285.7 1245.2,1287.2 1239.3,1286.4 1234.6,1278.8 1233.8,1271.4"/>
<polygon points="1331.6,1268.3 1343.0,1267.5 1358.5,1272.1 1374.0,1272.1 1389.6,1269.8 1397.0,1270.6 1398.6,1278.8 1396.4,1286.4 1389.6,1289.4 1377.1,1286.4 1361.6,1285.7 1346.1,1288.8 1337.1,1289.4 1331.6,1283.5 1330.1,1274.5"/>
</g>
<polygon points="1428.1,1112.0 1455.1,1101.1 1455.1,1122.9" fill="#ee1c25"/>
<text x="1472.2" y="1123.5" font-size="37.0" text-anchor="start" fill="#0f0c0d">15 kDa</text>
<polygon points="1428.1,1178.8 1455.1,1167.9 1455.1,1189.7" fill="#ee1c25"/>
<text x="1472.2" y="1190.2" font-size="37.0" text-anchor="start" fill="#0f0c0d">20 kDa</text>
<polygon points="1428.1,1276.3 1455.1,1265.4 1455.1,1287.2" fill="#ee1c25"/>
<text x="1472.2" y="1286.5" font-size="37.0" text-anchor="start" fill="#0f0c0d">36 kDa</text>
<circle cx="1821.2" cy="852.4" r="7.1" fill="none" stroke="#000" stroke-width="3"/>
<text x="1858.8" y="863.4" font-size="33.2" text-anchor="start" fill="#0f0c0d">Day 0</text>
<rect x="2080.6" y="846.2" width="13.8" height="13.4" fill="none" stroke="#000" stroke-width="3"/>
<text x="2127.8" y="863.4" font-size="33.2" text-anchor="start" fill="#0f0c0d">Day 5</text>
<line x1="1780.7" y1="933.3" x2="1780.7" y2="1319" stroke="#000" stroke-width="3.3"/>
<line x1="1761.0" y1="936.8" x2="1780.7" y2="936.8" stroke="#000" stroke-width="3.3"/>
<text x="1755.2" y="948.4" font-size="33.2" text-anchor="end" fill="#0f0c0d">60</text>
<line x1="1761.0" y1="1073.3" x2="1780.7" y2="1073.3" stroke="#000" stroke-width="3.3"/>
<text x="1755.2" y="1084.9" font-size="33.2" text-anchor="end" fill="#0f0c0d">40</text>
<line x1="1761.0" y1="1209.8" x2="1780.7" y2="1209.8" stroke="#000" stroke-width="3.3"/>
<text x="1755.2" y="1221.4" font-size="33.2" text-anchor="end" fill="#0f0c0d">20</text>
<text transform="translate(1691.8,1015.2) rotate(-90)" font-size="33.8" text-anchor="end" fill="#0f0c0d">Body weight (g)</text>
<rect x="1802.2" y="1051.8" width="36.2" height="273.8" fill="#93a6ae" stroke="#000" stroke-width="3.2"/>
<rect x="1862.0" y="1063.8" width="35.9" height="261.8" fill="#93a6ae" stroke="#000" stroke-width="3.2"/>
<path d="M1820.3,1051.0 V1043.6 M1809.1,1043.6 H1831.5" fill="none" stroke="#000" stroke-width="3"/>
<path d="M1879.5,1063.0 V1053.4 M1872.0,1053.4 H1887.0" fill="none" stroke="#000" stroke-width="3"/>
<circle cx="1806.4" cy="1033.4" r="6.1" fill="none" stroke="#000" stroke-width="3"/>
<circle cx="1820.3" cy="1045.4" r="6.1" fill="none" stroke="#000" stroke-width="3"/>
<circle cx="1834.1" cy="1042.9" r="6.1" fill="none" stroke="#000" stroke-width="3"/>
<circle cx="1826.9" cy="1058.9" r="6.1" fill="none" stroke="#000" stroke-width="3"/>
<circle cx="1813.0" cy="1067.5" r="6.1" fill="none" stroke="#000" stroke-width="3"/>
<rect x="1860.1" y="1043.4" width="12.2" height="12.2" fill="none" stroke="#000" stroke-width="3"/>
<rect x="1887.1" y="1045.1" width="12.2" height="12.2" fill="none" stroke="#000" stroke-width="3"/>
<rect x="1887.1" y="1064.1" width="12.2" height="12.2" fill="none" stroke="#000" stroke-width="3"/>
<rect x="1859.8" y="1070.6" width="12.2" height="12.2" fill="none" stroke="#000" stroke-width="3"/>
<rect x="1869.9" y="1053.9" width="12.2" height="12.2" fill="none" stroke="#000" stroke-width="3"/>
<rect x="1876.9" y="1053.9" width="12.2" height="12.2" fill="none" stroke="#000" stroke-width="3"/>
<path d="M1815.3,1004.6 V999.2 H1875.1 V1004.6" fill="none" stroke="#000" stroke-width="3.2"/>
<text x="1843.2" y="989.7" font-size="28" text-anchor="middle" fill="#0f0c0d">n.s</text>
<rect x="1959.7" y="1028.5" width="36.9" height="297.1" fill="#5c19e3" stroke="#000" stroke-width="3.2"/>
<rect x="2019.2" y="1032.1" width="36.7" height="293.5" fill="#5c19e3" stroke="#000" stroke-width="3.2"/>
<path d="M1978.2,1028.0 V1012.3 M1967.0,1012.3 H1989.4" fill="none" stroke="#000" stroke-width="3"/>
<path d="M2037.7,1031.0 V1017.0 M2026.5,1017.0 H2048.9" fill="none" stroke="#000" stroke-width="3"/>
<circle cx="1978.2" cy="976.1" r="6.1" fill="none" stroke="#000" stroke-width="3"/>
<circle cx="1978.2" cy="1020.3" r="6.1" fill="none" stroke="#000" stroke-width="3"/>
<circle cx="1978.2" cy="1035.2" r="6.1" fill="none" stroke="#000" stroke-width="3"/>
<circle cx="1964.6" cy="1049.0" r="6.1" fill="none" stroke="#000" stroke-width="3"/>
<circle cx="1991.9" cy="1049.0" r="6.1" fill="none" stroke="#000" stroke-width="3"/>
<rect x="2031.9" y="983.9" width="12.2" height="12.2" fill="none" stroke="#000" stroke-width="3"/>
<rect x="2018.3" y="1022.5" width="12.2" height="12.2" fill="none" stroke="#000" stroke-width="3"/>
<rect x="2045.3" y="1025.4" width="12.2" height="12.2" fill="none" stroke="#000" stroke-width="3"/>
<rect x="2031.9" y="1029.1" width="12.2" height="12.2" fill="none" stroke="#000" stroke-width="3"/>
<rect x="2031.9" y="1051.7" width="12.2" height="12.2" fill="none" stroke="#000" stroke-width="3"/>
<path d="M1976.9,956.4 V951.2 H2036.1 V956.4" fill="none" stroke="#000" stroke-width="3.2"/>
<text x="2004.4" y="941.1" font-size="28" text-anchor="middle" fill="#0f0c0d">n.s</text>
<rect x="2118.6" y="1032.4" width="36.9" height="293.2" fill="#83e60a" stroke="#000" stroke-width="3.2"/>
<rect x="2178.3" y="1039.7" width="36.2" height="285.9" fill="#83e60a" stroke="#000" stroke-width="3.2"/>
<path d="M2136.8,1032.0 V1025.6 M2127.3,1025.6 H2146.3" fill="none" stroke="#000" stroke-width="3"/>
<path d="M2196.4,1039.0 V1035.4 M2188.4,1035.4 H2204.4" fill="none" stroke="#000" stroke-width="3"/>
<circle cx="2122.8" cy="1017.7" r="6.1" fill="none" stroke="#000" stroke-width="3"/>
<circle cx="2150.5" cy="1022.8" r="6.1" fill="none" stroke="#000" stroke-width="3"/>
<circle cx="2122.8" cy="1030.8" r="6.1" fill="none" stroke="#000" stroke-width="3"/>
<circle cx="2150.5" cy="1036.6" r="6.1" fill="none" stroke="#000" stroke-width="3"/>
<circle cx="2122.8" cy="1047.6" r="6.1" fill="none" stroke="#000" stroke-width="3"/>
<rect x="2176.5" y="1018.1" width="12.2" height="12.2" fill="none" stroke="#000" stroke-width="3"/>
<rect x="2185.2" y="1027.6" width="12.2" height="12.2" fill="none" stroke="#000" stroke-width="3"/>
<rect x="2204.2" y="1028.3" width="12.2" height="12.2" fill="none" stroke="#000" stroke-width="3"/>
<rect x="2176.5" y="1039.3" width="12.2" height="12.2" fill="none" stroke="#000" stroke-width="3"/>
<rect x="2194.7" y="1039.3" width="12.2" height="12.2" fill="none" stroke="#000" stroke-width="3"/>
<path d="M2136.1,997.7 V992.3 H2196.0 V997.7" fill="none" stroke="#000" stroke-width="3.2"/>
<text x="2163.8" y="982.7" font-size="28" text-anchor="middle" fill="#0f0c0d">n.s</text>
<rect x="2276.5" y="1028.0" width="36.4" height="297.6" fill="#2873e8" stroke="#000" stroke-width="3.2"/>
<rect x="2336.5" y="1073.2" width="36.2" height="252.4" fill="#2873e8" stroke="#000" stroke-width="3.2"/>
<path d="M2294.6,1027.0 V1020.6 M2287.6,1020.6 H2301.6" fill="none" stroke="#000" stroke-width="3"/>
<path d="M2354.6,1072.0 V1068.0 M2346.6,1068.0 H2362.6" fill="none" stroke="#000" stroke-width="3"/>
<circle cx="2308.3" cy="1000.2" r="6.1" fill="none" stroke="#000" stroke-width="3"/>
<circle cx="2294.6" cy="1010.1" r="6.1" fill="none" stroke="#000" stroke-width="3"/>
<circle cx="2280.7" cy="1018.0" r="6.1" fill="none" stroke="#000" stroke-width="3"/>
<circle cx="2308.3" cy="1021.3" r="6.1" fill="none" stroke="#000" stroke-width="3"/>
<circle cx="2294.6" cy="1043.9" r="6.1" fill="none" stroke="#000" stroke-width="3"/>
<circle cx="2294.6" cy="1061.4" r="6.1" fill="none" stroke="#000" stroke-width="3"/>
<rect x="2343.4" y="1051.7" width="12.2" height="12.2" fill="none" stroke="#000" stroke-width="3"/>
<rect x="2352.9" y="1050.7" width="12.2" height="12.2" fill="none" stroke="#000" stroke-width="3"/>
<rect x="2334.2" y="1069.6" width="12.2" height="12.2" fill="none" stroke="#000" stroke-width="3"/>
<rect x="2352.6" y="1069.2" width="12.2" height="12.2" fill="none" stroke="#000" stroke-width="3"/>
<rect x="2361.6" y="1066.0" width="12.2" height="12.2" fill="none" stroke="#000" stroke-width="3"/>
<path d="M2304.5,976.6 V971.2 H2364.2 V976.6" fill="none" stroke="#000" stroke-width="3.2"/>
<text x="2334.9" y="970.5" font-size="28" text-anchor="middle" fill="#0f0c0d">*</text>
</svg>
</body></html>
